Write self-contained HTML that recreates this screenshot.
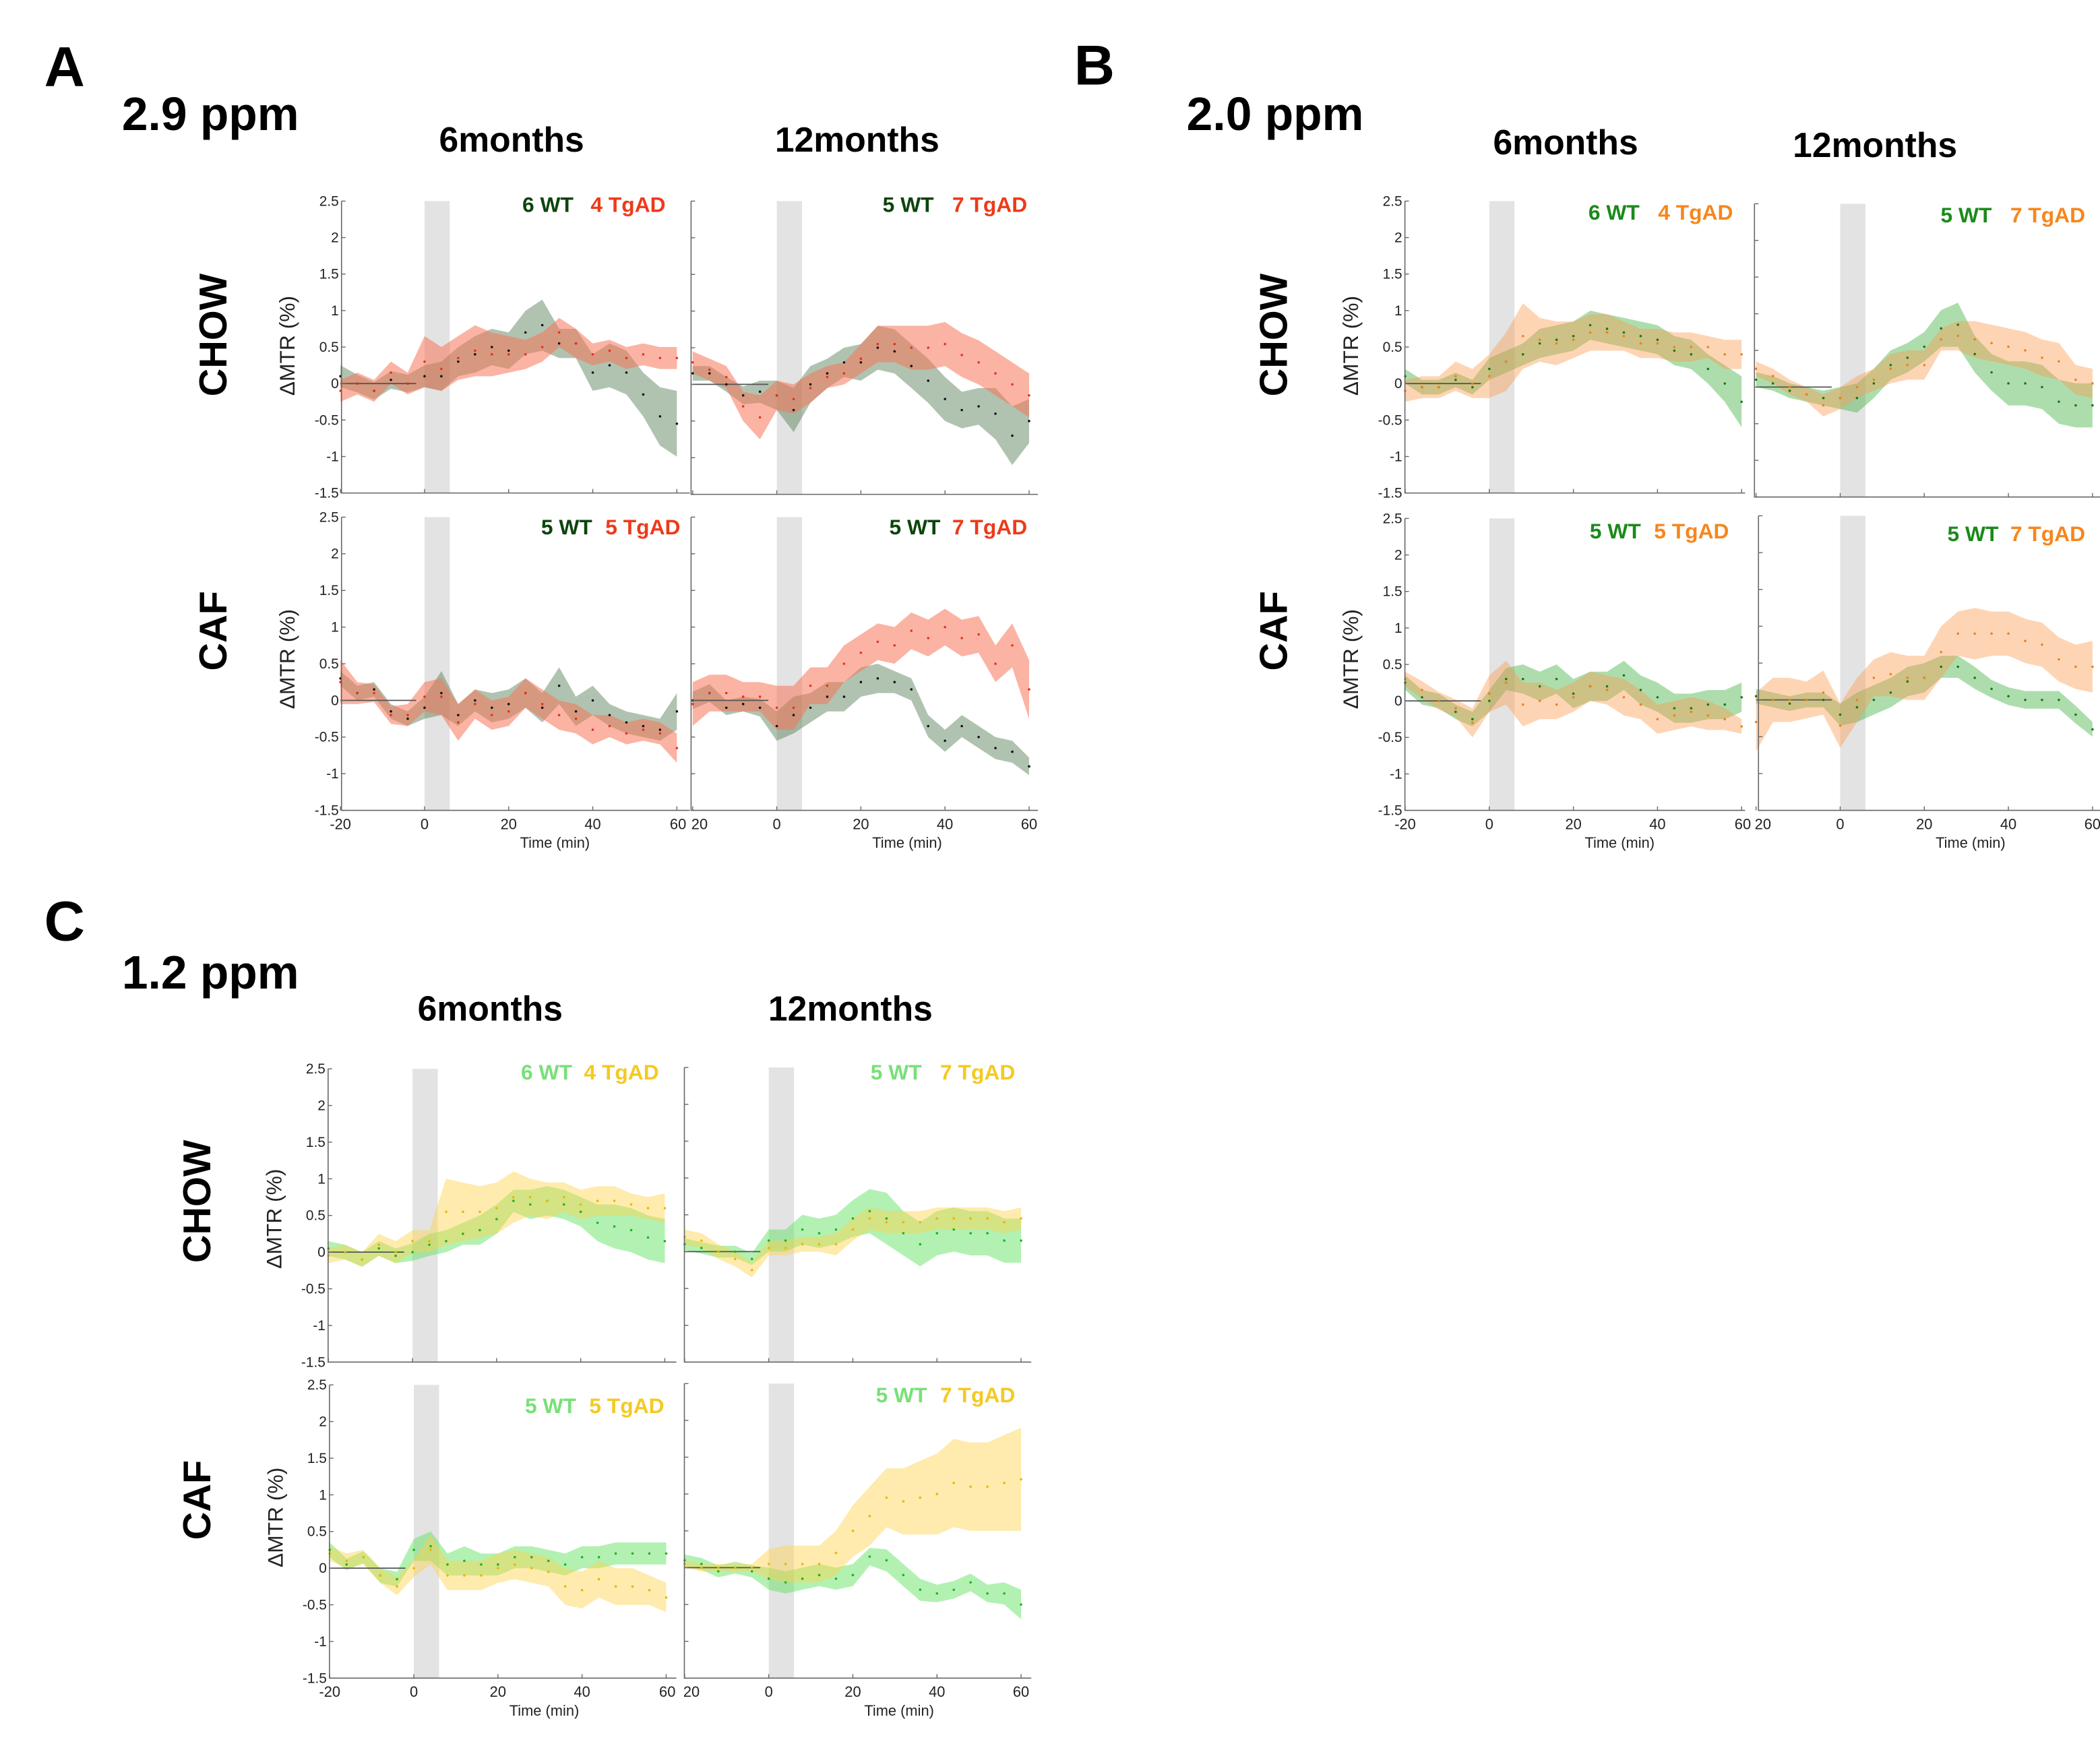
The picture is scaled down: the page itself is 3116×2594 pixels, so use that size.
<!DOCTYPE html>
<html><head><meta charset="utf-8"><style>
html,body{margin:0;padding:0;background:#fff;}
svg{display:block;}
text{font-family:"Liberation Sans",Arial,sans-serif;}
</style></head>
<body>
<svg id="fig" xmlns="http://www.w3.org/2000/svg" width="3116" height="2594" viewBox="0 0 1568 1305">
<rect x="0" y="0" width="1568" height="1305" fill="#fff"/>
<g font-weight="bold" fill="#000">
<text x="33" y="64" font-size="42">A</text>
<text x="91" y="97" font-size="35">2.9 ppm</text>
<text x="382" y="113" font-size="26" text-anchor="middle">6months</text>
<text x="640" y="113" font-size="26" text-anchor="middle">12months</text>
<text x="802" y="63" font-size="42">B</text>
<text x="886" y="97" font-size="35">2.0 ppm</text>
<text x="1169" y="115" font-size="26" text-anchor="middle">6months</text>
<text x="1400" y="117" font-size="26" text-anchor="middle">12months</text>
<text x="33" y="702" font-size="42">C</text>
<text x="91" y="738" font-size="35">1.2 ppm</text>
<text x="366" y="762" font-size="26" text-anchor="middle">6months</text>
<text x="635" y="762" font-size="26" text-anchor="middle">12months</text>
<text font-size="29" text-anchor="middle" transform="translate(169,250) rotate(-90)">CHOW</text>
<text font-size="29" text-anchor="middle" transform="translate(169,471) rotate(-90)">CAF</text>
<text font-size="29" text-anchor="middle" transform="translate(961,250) rotate(-90)">CHOW</text>
<text font-size="29" text-anchor="middle" transform="translate(961,471) rotate(-90)">CAF</text>
<text font-size="29" text-anchor="middle" transform="translate(157,897) rotate(-90)">CHOW</text>
<text font-size="29" text-anchor="middle" transform="translate(157,1120) rotate(-90)">CAF</text>
</g>
<g id="plots"></g>
</svg>
<script>
// time points (min)
const times = [-20,-16,-12,-8,-4,0,4,8,12,16,20,24,28,32,36,40,44,48,52,56,60];
const yTicks = [-1.5,-1,-0.5,0,0.5,1,1.5,2,2.5];
const xTicks = [-20,0,20,40,60];

// Panel A (2.9 ppm)
const aChow6Wt = [0.1,0,-0.1,0.05,0,0.1,0.1,0.3,0.4,0.5,0.45,0.7,0.8,0.55,0.55,0.15,0.25,0.15,-0.15,-0.45,-0.55];
const aChow6WtSd = [0.15,0.12,0.12,0.12,0.12,0.15,0.2,0.2,0.25,0.25,0.25,0.3,0.35,0.2,0.2,0.25,0.3,0.3,0.3,0.4,0.45];
const aChow6Tg = [-0.1,0,-0.1,0.15,0,0.3,0.2,0.35,0.45,0.4,0.4,0.4,0.5,0.7,0.55,0.4,0.45,0.35,0.4,0.35,0.35];
const aChow6TgSd = [0.15,0.15,0.15,0.15,0.15,0.35,0.3,0.3,0.35,0.3,0.25,0.2,0.2,0.2,0.2,0.15,0.15,0.15,0.15,0.15,0.15];
const aChow12Wt = [0.15,0.15,0,-0.15,-0.1,-0.15,-0.35,0,0.15,0.3,0.3,0.5,0.45,0.25,0.05,-0.2,-0.35,-0.3,-0.4,-0.7,-0.5];
const aChow12WtSd = [0.1,0.1,0.1,0.12,0.15,0.2,0.3,0.25,0.2,0.2,0.25,0.3,0.3,0.3,0.3,0.3,0.25,0.25,0.35,0.4,0.3];
const aChow12Tg = [0.3,0.2,0.1,-0.3,-0.45,-0.15,-0.2,-0.05,0.1,0.15,0.35,0.55,0.55,0.5,0.5,0.55,0.4,0.3,0.15,0,-0.15];
const aChow12TgSd = [0.15,0.15,0.15,0.2,0.3,0.2,0.2,0.2,0.15,0.15,0.2,0.25,0.25,0.3,0.3,0.3,0.3,0.3,0.3,0.3,0.3];
const aCaf6Wt = [0.3,0.1,0.15,-0.15,-0.25,-0.1,0.1,-0.2,0,-0.1,-0.05,0.1,-0.1,0.2,-0.15,0,-0.2,-0.3,-0.35,-0.4,-0.15];
const aCaf6WtSd = [0.1,0.1,0.1,0.1,0.1,0.15,0.3,0.15,0.15,0.2,0.2,0.2,0.2,0.25,0.2,0.2,0.15,0.15,0.15,0.15,0.25];
const aCaf6Tg = [0.25,0.1,0.1,-0.2,-0.2,0.05,0.05,-0.3,-0.05,-0.2,-0.15,0.1,-0.05,-0.2,-0.25,-0.4,-0.35,-0.45,-0.4,-0.45,-0.65];
const aCaf6TgSd = [0.3,0.15,0.12,0.12,0.15,0.2,0.25,0.25,0.2,0.2,0.2,0.2,0.2,0.2,0.2,0.2,0.15,0.15,0.15,0.15,0.2];
const aCaf12Wt = [0,0.1,-0.1,-0.05,-0.1,-0.35,-0.2,-0.1,0.05,0.05,0.25,0.3,0.25,0.15,-0.35,-0.55,-0.35,-0.5,-0.65,-0.7,-0.9];
const aCaf12WtSd = [0.12,0.12,0.1,0.1,0.12,0.2,0.25,0.2,0.2,0.2,0.2,0.2,0.15,0.15,0.15,0.15,0.15,0.15,0.15,0.15,0.12];
const aCaf12Tg = [-0.05,0.1,0.1,0.05,0.05,-0.1,-0.1,0.2,0.2,0.5,0.65,0.8,0.75,0.95,0.85,1.0,0.85,0.9,0.5,0.75,0.15];
const aCaf12TgSd = [0.3,0.25,0.25,0.2,0.2,0.3,0.3,0.25,0.25,0.25,0.25,0.25,0.25,0.25,0.25,0.25,0.25,0.25,0.25,0.3,0.4];

// Panel B (2.0 ppm)
const bChow6Wt = [0.1,-0.05,-0.05,0.05,-0.05,0.2,0.3,0.4,0.55,0.6,0.65,0.8,0.75,0.7,0.65,0.6,0.45,0.4,0.2,0,-0.25];
const bChow6WtSd = [0.1,0.1,0.1,0.1,0.1,0.15,0.15,0.15,0.2,0.2,0.2,0.2,0.2,0.2,0.2,0.2,0.2,0.2,0.2,0.25,0.35];
const bChow6Tg = [-0.1,-0.05,-0.05,0.1,0,0.1,0.3,0.65,0.6,0.55,0.6,0.7,0.7,0.65,0.55,0.55,0.5,0.5,0.5,0.4,0.4];
const bChow6TgSd = [0.15,0.15,0.15,0.2,0.2,0.3,0.4,0.45,0.3,0.3,0.25,0.25,0.25,0.2,0.2,0.2,0.2,0.2,0.15,0.2,0.2];
const bChow12Wt = [0.1,0.05,-0.05,-0.1,-0.15,-0.15,-0.15,0.05,0.3,0.4,0.55,0.8,0.85,0.45,0.2,0.05,0.05,0,-0.2,-0.25,-0.25];
const bChow12WtSd = [0.1,0.1,0.1,0.1,0.1,0.15,0.2,0.2,0.2,0.2,0.2,0.25,0.3,0.25,0.25,0.3,0.3,0.3,0.3,0.3,0.3];
const bChow12Tg = [0.25,0.15,0,-0.1,-0.25,-0.15,0,0.1,0.25,0.3,0.3,0.65,0.7,0.65,0.6,0.55,0.5,0.4,0.35,0.1,0.05];
const bChow12TgSd = [0.1,0.1,0.1,0.1,0.15,0.15,0.15,0.15,0.2,0.2,0.2,0.15,0.2,0.25,0.25,0.25,0.25,0.25,0.25,0.2,0.2];
const bCaf6Wt = [0.25,0.05,0,-0.15,-0.25,0,0.3,0.3,0.2,0.3,0.1,0.2,0.2,0.35,0.15,0.05,-0.1,-0.1,-0.05,-0.05,0.05];
const bCaf6WtSd = [0.1,0.1,0.1,0.1,0.1,0.15,0.15,0.2,0.2,0.2,0.2,0.2,0.2,0.2,0.2,0.2,0.2,0.2,0.2,0.2,0.2];
const bCaf6Tg = [0.3,0.15,0,-0.1,-0.3,0.1,0.25,-0.05,0,-0.05,0.05,0.2,0.15,0.05,-0.05,-0.25,-0.2,-0.15,-0.2,-0.25,-0.35];
const bCaf6TgSd = [0.1,0.12,0.12,0.12,0.2,0.25,0.3,0.3,0.25,0.2,0.2,0.2,0.2,0.25,0.2,0.2,0.2,0.2,0.2,0.15,0.1];
const bCaf12Wt = [0.05,0,-0.05,0,0,-0.2,-0.1,0,0.1,0.25,0.3,0.45,0.45,0.3,0.15,0.05,0,0,0,-0.2,-0.4];
const bCaf12WtSd = [0.1,0.1,0.1,0.1,0.1,0.15,0.2,0.2,0.2,0.2,0.2,0.15,0.15,0.15,0.12,0.12,0.12,0.12,0.12,0.12,0.1];
const bCaf12Tg = [-0.3,0,0,0,0.1,-0.35,0,0.3,0.35,0.3,0.3,0.65,0.9,0.9,0.9,0.9,0.8,0.75,0.55,0.45,0.45];
const bCaf12TgSd = [0.4,0.3,0.3,0.25,0.3,0.3,0.3,0.25,0.3,0.3,0.3,0.35,0.3,0.35,0.3,0.3,0.3,0.3,0.3,0.3,0.35];

// Panel C (1.2 ppm)
const cChow6Wt = [0.05,0,-0.1,0.05,-0.05,0,0.1,0.15,0.25,0.3,0.45,0.7,0.65,0.7,0.65,0.55,0.4,0.35,0.3,0.2,0.15];
const cChow6WtSd = [0.1,0.1,0.1,0.1,0.1,0.12,0.15,0.15,0.15,0.2,0.2,0.15,0.2,0.2,0.2,0.2,0.25,0.3,0.3,0.3,0.3];
const cChow6Tg = [-0.05,0,-0.1,0.1,0,0.15,0.15,0.55,0.55,0.55,0.6,0.75,0.75,0.7,0.75,0.65,0.7,0.7,0.65,0.6,0.6];
const cChow6TgSd = [0.1,0.1,0.1,0.15,0.15,0.15,0.15,0.45,0.4,0.35,0.35,0.35,0.25,0.25,0.2,0.2,0.2,0.2,0.15,0.15,0.2];
const cChow12Wt = [0.1,0.05,0,0,-0.1,0.15,0.15,0.3,0.25,0.3,0.45,0.55,0.45,0.25,0.1,0.25,0.3,0.25,0.25,0.15,0.15];
const cChow12WtSd = [0.08,0.08,0.08,0.08,0.08,0.15,0.15,0.2,0.2,0.2,0.25,0.3,0.35,0.3,0.3,0.3,0.3,0.3,0.3,0.3,0.3];
const cChow12Tg = [0.2,0.15,0,-0.1,-0.25,0.05,0.05,0.1,0.1,0.1,0.3,0.45,0.4,0.4,0.4,0.45,0.45,0.45,0.45,0.4,0.45];
const cChow12TgSd = [0.1,0.1,0.1,0.1,0.1,0.1,0.1,0.1,0.1,0.15,0.15,0.15,0.15,0.15,0.15,0.15,0.15,0.15,0.15,0.15,0.15];
const cCaf6Wt = [0.25,0.05,0.15,-0.1,-0.15,0.25,0.3,0.05,0.1,0.05,0.05,0.15,0.15,0.1,0.05,0.15,0.15,0.2,0.2,0.2,0.2];
const cCaf6WtSd = [0.1,0.08,0.08,0.1,0.1,0.15,0.2,0.15,0.2,0.15,0.15,0.15,0.15,0.15,0.15,0.15,0.15,0.15,0.15,0.15,0.15];
const cCaf6Tg = [0.2,0.1,0.15,-0.1,-0.25,0,0.25,-0.1,-0.1,-0.1,0,0.05,0,-0.05,-0.25,-0.3,-0.15,-0.25,-0.25,-0.3,-0.4];
const cCaf6TgSd = [0.1,0.1,0.1,0.1,0.12,0.12,0.2,0.2,0.2,0.2,0.2,0.2,0.2,0.2,0.25,0.25,0.25,0.25,0.25,0.2,0.2];
const cCaf12Wt = [0.1,0.05,-0.05,0,-0.05,-0.15,-0.2,-0.15,-0.1,-0.15,-0.1,0.15,0.1,-0.1,-0.3,-0.35,-0.3,-0.2,-0.35,-0.35,-0.5];
const cCaf12WtSd = [0.08,0.08,0.08,0.08,0.08,0.15,0.15,0.15,0.15,0.15,0.15,0.12,0.15,0.15,0.15,0.12,0.12,0.12,0.12,0.15,0.2];
const cCaf12Tg = [0.05,0,0,0,0,0.05,0.05,0.05,0.05,0.2,0.5,0.7,0.95,0.9,0.95,1.0,1.15,1.1,1.1,1.15,1.2];
const cCaf12TgSd = [0.05,0.05,0.05,0.05,0.05,0.2,0.25,0.25,0.25,0.3,0.35,0.4,0.4,0.45,0.5,0.55,0.6,0.6,0.6,0.65,0.7];

const NS = 'http://www.w3.org/2000/svg';
const themes = {
  A:{wtFill:'#4f7a4f',wtOp:0.45,tgFill:'#f7745a',tgOp:0.55,wtDot:'#111',tgDot:'#e8301a',wtTxt:'#0d450d',tgTxt:'#ee3a1a'},
  B:{wtFill:'#3cae3c',wtOp:0.42,tgFill:'#fb9c4e',tgOp:0.42,wtDot:'#167a16',tgDot:'#f0801c',wtTxt:'#1a8a1a',tgTxt:'#f7861c'},
  C:{wtFill:'#55df55',wtOp:0.45,tgFill:'#fcd24a',tgOp:0.45,wtDot:'#22b022',tgDot:'#e8b800',wtTxt:'#78e078',tgTxt:'#f4c922'}
};
const panels = [
 {id:'a-chow-6m',th:'A',axis:255,x0:317,right:515,top:150,bot:368,wt:aChow6Wt,wtSd:aChow6WtSd,tg:aChow6Tg,tgSd:aChow6TgSd,yl:true,xl:false,leg:['6 WT','4 TgAD',390,441,158],ylab:258},
 {id:'a-chow-12m',th:'A',axis:516,x0:580,right:775,top:150,bot:369,wt:aChow12Wt,wtSd:aChow12WtSd,tg:aChow12Tg,tgSd:aChow12TgSd,yl:false,xl:false,leg:['5 WT','7 TgAD',659,711,158]},
 {id:'a-caf-6m',th:'A',axis:255,x0:317,right:515,top:386,bot:605,wt:aCaf6Wt,wtSd:aCaf6WtSd,tg:aCaf6Tg,tgSd:aCaf6TgSd,yl:true,xl:true,leg:['5 WT','5 TgAD',404,452,399],ylab:492},
 {id:'a-caf-12m',th:'A',axis:516,x0:580,right:775,top:386,bot:605,wt:aCaf12Wt,wtSd:aCaf12WtSd,tg:aCaf12Tg,tgSd:aCaf12TgSd,yl:false,xl:true,leg:['5 WT','7 TgAD',664,711,399]},
 {id:'b-chow-6m',th:'B',axis:1049,x0:1112,right:1303,top:150,bot:368,wt:bChow6Wt,wtSd:bChow6WtSd,tg:bChow6Tg,tgSd:bChow6TgSd,yl:true,xl:false,leg:['6 WT','4 TgAD',1186,1238,164],ylab:258},
 {id:'b-chow-12m',th:'B',axis:1310,x0:1374,right:1568,top:152,bot:371,wt:bChow12Wt,wtSd:bChow12WtSd,tg:bChow12Tg,tgSd:bChow12TgSd,yl:false,xl:false,leg:['5 WT','7 TgAD',1449,1501,166]},
 {id:'b-caf-6m',th:'B',axis:1049,x0:1112,right:1303,top:387,bot:605,wt:bCaf6Wt,wtSd:bCaf6WtSd,tg:bCaf6Tg,tgSd:bCaf6TgSd,yl:true,xl:true,leg:['5 WT','5 TgAD',1187,1235,402],ylab:492},
 {id:'b-caf-12m',th:'B',axis:1313,x0:1374,right:1568,top:385,bot:605,wt:bCaf12Wt,wtSd:bCaf12WtSd,tg:bCaf12Tg,tgSd:bCaf12TgSd,yl:false,xl:true,leg:['5 WT','7 TgAD',1454,1501,404]},
 {id:'c-chow-6m',th:'C',axis:245,x0:308,right:505,top:798,bot:1017,wt:cChow6Wt,wtSd:cChow6WtSd,tg:cChow6Tg,tgSd:cChow6TgSd,yl:true,xl:false,leg:['6 WT','4 TgAD',389,436,806],ylab:910},
 {id:'c-chow-12m',th:'C',axis:511,x0:574,right:770,top:797,bot:1017,wt:cChow12Wt,wtSd:cChow12WtSd,tg:cChow12Tg,tgSd:cChow12TgSd,yl:false,xl:false,leg:['5 WT','7 TgAD',650,702,806]},
 {id:'c-caf-6m',th:'C',axis:246,x0:309,right:505,top:1034,bot:1253,wt:cCaf6Wt,wtSd:cCaf6WtSd,tg:cCaf6Tg,tgSd:cCaf6TgSd,yl:true,xl:true,leg:['5 WT','5 TgAD',392,440,1055],ylab:1133},
 {id:'c-caf-12m',th:'C',axis:511,x0:574,right:770,top:1033,bot:1253,wt:cCaf12Wt,wtSd:cCaf12WtSd,tg:cCaf12Tg,tgSd:cCaf12TgSd,yl:false,xl:true,leg:['5 WT','7 TgAD',654,702,1047]}
];
const PXMIN = 3.14;
const root = document.getElementById('plots');
function mk(tag, attrs, parent){
  const e = document.createElementNS(NS, tag);
  for (const k in attrs) e.setAttribute(k, attrs[k]);
  parent.appendChild(e);
  return e;
}
panels.forEach(p => {
  const th = themes[p.th];
  const xs = t => p.x0 + t * PXMIN;
  const ys = v => p.bot - (v + 1.5) / 4 * (p.bot - p.top);
  const g = mk('g', {}, root);
  
  
  const bar = mk('rect', {x: xs(0), y: p.top, width: xs(6) - xs(0), height: p.bot - p.top, fill: '#e3e3e3'}, g);
  
  
  function band(mean, sd, fill, op, nm){
    let up = times.map((t,i) => xs(t).toFixed(1) + ',' + ys(mean[i] + sd[i]).toFixed(1));
    let lo = times.map((t,i) => xs(t).toFixed(1) + ',' + ys(mean[i] - sd[i]).toFixed(1)).reverse();
    const pg = mk('polygon', {points: up.concat(lo).join(' '), fill: fill, 'fill-opacity': op}, g);
    
    
  }
  band(p.wt, p.wtSd, th.wtFill, th.wtOp, 'wt-band');
  band(p.tg, p.tgSd, th.tgFill, th.tgOp, 'tgad-band');
  const bl = mk('line', {x1: xs(-20), x2: xs(-2), y1: ys(0), y2: ys(0), stroke: '#555', 'stroke-width': 0.9}, g);
  
  
  function dots(mean, col, nm){
    times.forEach((t,i) => {
      const c = mk('circle', {cx: xs(t), cy: ys(mean[i]), r: 0.9, fill: col}, g);
      
      
    });
  }
  dots(p.wt, th.wtDot, 'wt-mean-point');
  dots(p.tg, th.tgDot, 'tgad-mean-point');
  const ax = mk('path', {d: `M${p.axis},${p.top}V${p.bot}H${p.right}`, fill: 'none', stroke: '#666', 'stroke-width': 0.8}, g);
  
  
  yTicks.forEach(v => {
    const tk = mk('line', {x1: p.axis, x2: p.axis + 3, y1: ys(v), y2: ys(v), stroke: '#666', 'stroke-width': 0.7}, g);
    
    
    if (p.yl) {
      const tx = mk('text', {x: p.axis - 2, y: ys(v) + 3.5, 'font-size': 10.5, 'text-anchor': 'end', fill: '#222'}, g);
      tx.textContent = String(v);
      
      
    }
  });
  xTicks.forEach(t => {
    const tk = mk('line', {x1: xs(t), x2: xs(t), y1: p.bot, y2: p.bot - 3, stroke: '#666', 'stroke-width': 0.7}, g);
    
    
    if (p.xl) {
      const lab = (t === -20 && !p.yl) ? '20' : String(t);
      const ax2 = (t === -20 && !p.yl) ? 'start' : (t === 60 && p.yl ? 'end' : 'middle');
      const xx = (t === -20 && !p.yl) ? xs(t) - 1 : (t === 60 && p.yl ? xs(t) + 7 : xs(t));
      const tx = mk('text', {x: xx, y: p.bot + 14, 'font-size': 11, 'text-anchor': ax2, fill: '#222'}, g);
      tx.textContent = lab;
      
      
    }
  });
  if (p.xl) {
    const tl = mk('text', {x: xs(31), y: p.bot + 28, 'font-size': 11, 'text-anchor': 'middle', fill: '#222'}, g);
    tl.textContent = 'Time (min)';
    
    
  }
  if (p.yl) {
    const yl = mk('text', {'font-size': 16, 'text-anchor': 'middle', fill: '#222', transform: `translate(${p.axis - 35},${p.ylab}) rotate(-90)`}, g);
    yl.textContent = '\u0394MTR (%)';
    
    
  }
  const l1 = mk('text', {x: p.leg[2], y: p.leg[4], 'font-size': 16, 'font-weight': 'bold', fill: th.wtTxt}, g);
  l1.textContent = p.leg[0];
  
  
  const l2 = mk('text', {x: p.leg[3], y: p.leg[4], 'font-size': 16, 'font-weight': 'bold', fill: th.tgTxt}, g);
  l2.textContent = p.leg[1];
  
  
});
</script>
</body></html>
